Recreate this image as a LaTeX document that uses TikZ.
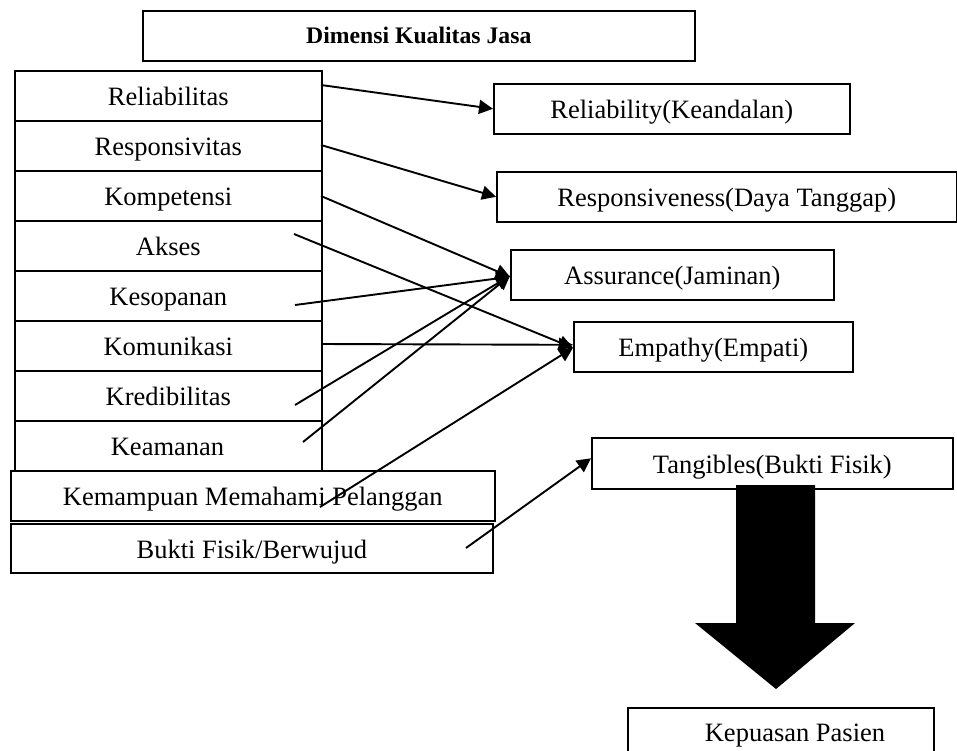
\documentclass[tikz,border=0pt]{standalone}
\usepackage{fontspec}
\setmainfont{Liberation Serif}
\usetikzlibrary{arrows.meta}
\begin{document}
\begin{tikzpicture}[x=1pt,y=-1pt,
  box/.style={draw, line width=1.6pt, inner sep=0pt, anchor=north west,
    font=\fontsize{26.5}{30}\selectfont, text height=20pt, text depth=0pt},
  row/.style={box, minimum width=307pt, minimum height=50pt},
  conn/.style={line width=1.9pt, -{Triangle[length=14pt,width=14pt]}},
  bigarrow/.style={fill=black, draw=none}]
\useasboundingbox (0,0) rectangle (957,750);
\clip (0,0) rectangle (957,750);

% title
\node[box, minimum width=552pt, minimum height=50pt, font=\bfseries\fontsize{23.7}{27}\selectfont, text height=16pt] (title) at (142,10) {Dimensi Kualitas Jasa};

% left stack
\node[row] (r1) at (14,70)  {Reliabilitas};
\node[row] (r2) at (14,120) {Responsivitas};
\node[row] (r3) at (14,170) {Kompetensi};
\node[row] (r4) at (14,220) {Akses};
\node[row] (r5) at (14,270) {Kesopanan};
\node[row] (r6) at (14,320) {Komunikasi};
\node[row] (r7) at (14,370) {Kredibilitas};
\node[row, minimum height=100pt] (r8) at (14,420) {};
\node[font=\fontsize{26.5}{30}\selectfont, text height=20pt, text depth=0pt, inner sep=0pt] (r8t) at (167.5,445) {Keamanan};
\node[box, fill=white, minimum width=484pt, minimum height=50pt] (kmp) at (10,470) {Kemampuan Memahami Pelanggan};
\node[box, minimum width=482pt, minimum height=49pt] (bf) at (10,523) {Bukti Fisik/Berwujud};

% right boxes
\node[box, minimum width=356pt, minimum height=50pt] (rel) at (493,83)  {Reliability(Keandalan)};
\node[box, minimum width=460pt, minimum height=50pt] (res) at (496,171) {Responsiveness(Daya Tanggap)};
\node[box, minimum width=323pt, minimum height=50pt] (ass) at (510,249) {Assurance(Jaminan)};
\node[box, minimum width=279pt, minimum height=50pt] (emp) at (573,321) {Empathy(Empati)};
\node[box, minimum width=361pt, minimum height=51pt] (tan) at (591,437) {Tangibles(Bukti Fisik)};
\node[box, minimum width=306pt, minimum height=70pt] (kp) at (627,707) {};
\node[font=\fontsize{26.5}{30}\selectfont, inner sep=0pt, anchor=base] (kpt) at (795,741) {Kepuasan Pasien};

% start points
\coordinate (s1) at (321,85);
\coordinate (s2) at (321,145);
\coordinate (s3) at (321,196);
\coordinate (s4) at (294,234);
\coordinate (s5) at (295,305);
\coordinate (s6) at (321,344);
\coordinate (s7) at (295,405);
\coordinate (s8) at (303,442);
\coordinate (s9) at (320,507);
\coordinate (s10) at (466,548);

\draw[conn] (s1) -- (rel.west);
\draw[conn] (s2) -- (res.west);
\draw[conn] (s3) -- ([yshift=-2pt]ass.west);
\draw[conn] (s4) -- ([yshift=-1pt]emp.west);
\draw[conn] (s5) -- ([yshift=-2pt]ass.west);
\draw[conn] (s6) -- ([yshift=2pt]emp.west);
\draw[conn] (s7) -- ([yshift=-1pt]ass.west);
\draw[conn] (s8) -- ([yshift=-1pt]ass.west);
\draw[conn] (s9) -- ([yshift=-1pt]emp.west);
\draw[conn] (s10) -- ([yshift=5pt]tan.west);

% big arrow
\fill[bigarrow] (736,485) -- (815,485) -- (815,623) -- (855,623) -- (776,689) -- (695,623) -- (736,623) -- cycle;
\end{tikzpicture}
\end{document}
